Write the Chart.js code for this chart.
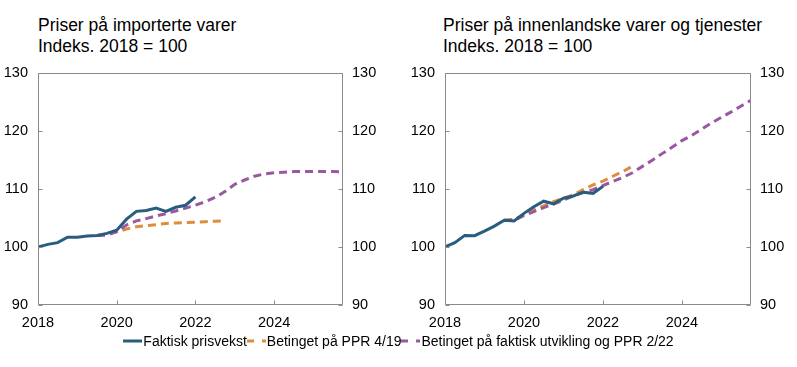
<!DOCTYPE html>
<html>
<head>
<meta charset="utf-8">
<script src="https://cdn.jsdelivr.net/npm/chart.js@4/dist/chart.umd.min.js"></script>
<style>
  html, body { margin: 0; padding: 0; background: #fff; }
  body { width: 797px; height: 367px; position: relative; overflow: hidden;
         font-family: "Liberation Sans", Arial, Helvetica, sans-serif; color: #000; }
  .title { position: absolute; top: 15px; font-size: 17.5px; line-height: 20.5px; white-space: nowrap; }
  .wrap { position: absolute; top: 0; height: 335px; }
  #legend { position: absolute; top: 333px; left: 0; width: 797px; text-align: center;
            font-size: 14px; line-height: 16px; white-space: nowrap; }
  #legend span.item { display: inline-flex; align-items: center; margin: 0; }
  #legend svg { margin-right: 1px; }
</style>
</head>
<body>
<div class="title" style="left:38px">Priser på importerte varer<br>Indeks. 2018 = 100</div>
<div class="title" style="left:443px">Priser på innenlandske varer og tjenester<br>Indeks. 2018 = 100</div>
<div class="wrap" style="left:0;width:398px"><canvas id="c1" width="398" height="335"></canvas></div>
<div class="wrap" style="left:398px;width:399px"><canvas id="c2" width="399" height="335"></canvas></div>
<div id="legend"></div>
<script>
// ---- data ----
const quarters = [
  '2018K1','2018K2','2018K3','2018K4','2019K1','2019K2','2019K3','2019K4',
  '2020K1','2020K2','2020K3','2020K4','2021K1','2021K2','2021K3','2021K4',
  '2022K1','2022K2','2022K3','2022K4','2023K1','2023K2','2023K3','2023K4',
  '2024K1','2024K2','2024K3','2024K4','2025K1','2025K2','2025K3','2025K4'
];
const xTickLabels = [2018, 2020, 2022, 2024];
const yTickLabels = [90, 100, 110, 120, 130];
const seriesNames = ['Faktisk prisvekst', 'Betinget på PPR 4/19', 'Betinget på faktisk utvikling og PPR 2/22'];

// Importerte varer
const impActualStart = '2018K1';
const impActual = [100.0,100.45,100.75,101.7,101.7,101.9,102.0,102.35,102.9,104.8,106.15,106.3,106.7,106.15,106.85,107.2,108.65];
const impPPR419Start = '2019K3';
const impPPR419 = [102.0,102.2,102.6,103.1,103.5,103.7,103.85,104.05,104.15,104.2,104.25,104.35,104.45,104.5];
const impPPR222Start = '2019K3';
const impPPR222 = [102.0,102.05,102.65,103.8,104.5,104.9,105.35,105.75,106.2,106.7,107.2,107.8,108.55,109.55,110.8,111.55,112.2,112.6,112.8,112.9,113.0,113.0,113.0,113.0,113.0,112.95];

// Innenlandske varer og tjenester
const domActualStart = '2018K1';
const domActual = [100.0,100.75,102.0,101.95,102.75,103.6,104.6,104.5,105.8,106.95,107.9,107.45,108.4,108.8,109.45,109.25,110.45];
const domPPR419Start = '2019K3';
const domPPR419 = [104.6,104.75,105.6,106.4,107.1,107.8,108.4,109.0,109.9,110.7,111.35,112.2,113.0,113.95];
const domPPR222Start = '2019K3';
const domPPR222 = [104.6,104.6,105.4,106.1,106.8,107.4,108.1,108.8,109.4,109.9,110.6,111.3,112.0,112.8,113.9,114.95,116.1,117.2,118.35,119.25,120.3,121.4,122.35,123.3,124.3,125.3];

const colors = ['#285d80', '#df8c3c', '#9a58a3'];
const axisColor = '#8a8a8a';

// ---- helpers ----
function qToNum(q) { return parseInt(q.slice(0, 4)) + (parseInt(q.slice(5)) - 1) / 4; }
function toPoints(start, vals) {
  const i0 = quarters.indexOf(start);
  return vals.map((v, i) => ({ x: qToNum(quarters[i0 + i]), y: v }));
}
const xMin = qToNum(quarters[0]);
const xMax = qToNum(quarters[quarters.length - 1]);

const framePlugin = {
  id: 'frame',
  afterDraw(chart) {
    const ctx = chart.ctx, a = chart.chartArea;
    const L = Math.round(a.left) + 0.5, R = Math.round(a.right) - 0.5;
    const T = Math.round(a.top) + 0.5, B = Math.round(a.bottom) - 0.5;
    ctx.save();
    ctx.strokeStyle = axisColor;
    ctx.lineWidth = 1;
    ctx.beginPath();
    ctx.rect(L, T, R - L, B - T);
    const tl = 4;
    chart.scales.y.ticks.forEach(t => {
      const y = Math.round(chart.scales.y.getPixelForValue(t.value)) + 0.5;
      ctx.moveTo(L, y); ctx.lineTo(L + tl, y);
      ctx.moveTo(R, y); ctx.lineTo(R - tl, y);
    });
    chart.scales.x.ticks.forEach(t => {
      const x = Math.round(chart.scales.x.getPixelForValue(t.value)) + 0.5;
      ctx.moveTo(x, B); ctx.lineTo(x, B - tl);
    });
    ctx.stroke();
    ctx.restore();
  }
};

function makeChart(id, actual, ppr419, ppr222, leftW, rightW) {
  const font = { family: '"Liberation Sans", Arial, Helvetica, sans-serif', size: 14.5 };
  const ds = (label, data, i, dashed) => ({
    label, data, borderColor: colors[i], backgroundColor: colors[i],
    borderWidth: 3, pointRadius: 0, tension: 0, fill: false,
    borderDash: dashed ? [8, 5] : [], borderCapStyle: 'butt', order: i === 0 ? 0 : 3 - i
  });
  return new Chart(document.getElementById(id), {
    type: 'line',
    data: {
      datasets: [
        ds(seriesNames[0], actual, 0, false),
        ds(seriesNames[1], ppr419, 1, true),
        ds(seriesNames[2], ppr222, 2, true)
      ]
    },
    options: {
      responsive: false, animation: false, devicePixelRatio: 1,
      layout: { padding: { top: 73, left: 0, right: 0, bottom: 0 } },
      plugins: { legend: { display: false }, tooltip: { enabled: false }, title: { display: false } },
      scales: {
        x: {
          type: 'linear', min: xMin, max: xMax,
          grid: { display: false, drawTicks: false },
          border: { display: false },
          afterBuildTicks: s => { s.ticks = xTickLabels.map(v => ({ value: v })); },
          afterFit: s => { s.height = 30; },
          ticks: { color: '#000', font, padding: 9, maxRotation: 0, autoSkip: false,
                   callback: v => String(v) }
        },
        y: {
          position: 'left', min: 90, max: 130,
          grid: { display: false, drawTicks: false },
          border: { display: false },
          afterBuildTicks: s => { s.ticks = yTickLabels.map(v => ({ value: v })); },
          afterFit: s => { s.width = leftW; },
          ticks: { color: '#000', font, padding: 10, callback: v => String(v) }
        },
        y2: {
          position: 'right', min: 90, max: 130,
          grid: { display: false, drawTicks: false },
          border: { display: false },
          afterBuildTicks: s => { s.ticks = yTickLabels.map(v => ({ value: v })); },
          afterFit: s => { s.width = rightW; },
          ticks: { color: '#000', font, padding: 9, callback: v => String(v) }
        }
      }
    },
    plugins: [framePlugin]
  });
}

makeChart('c1', toPoints(impActualStart, impActual), toPoints(impPPR419Start, impPPR419), toPoints(impPPR222Start, impPPR222), 38, 55);
makeChart('c2', toPoints(domActualStart, domActual), toPoints(domPPR419Start, domPPR419), toPoints(domPPR222Start, domPPR222), 47, 46);

// ---- legend ----
const leg = document.getElementById('legend');
seriesNames.forEach((name, i) => {
  const item = document.createElement('span');
  item.className = 'item';
  const dash = i === 0 ? '' : ' stroke-dasharray="7 8"';
  item.innerHTML = '<svg width="19" height="10"><line x1="0" y1="5" x2="19" y2="5" stroke="' + colors[i] +
    '" stroke-width="3"' + dash + '/></svg>' + name;
  leg.appendChild(item);
});
</script>
</body>
</html>
